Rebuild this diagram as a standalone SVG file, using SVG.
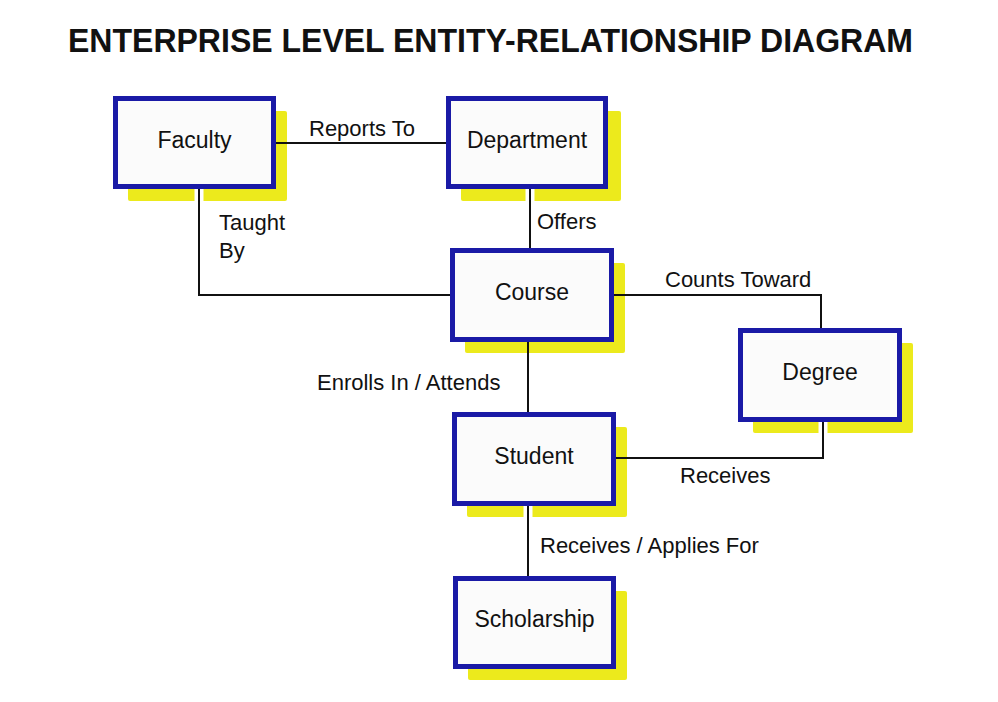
<svg xmlns="http://www.w3.org/2000/svg" width="998" height="702" viewBox="0 0 998 702">
<style>
.bg{fill:#ffffff}
.shadow{fill:#ecea1c}
.box{fill:#fbfbfb;stroke:#1a1aa6;stroke-width:5}
.lbl{font-family:"Liberation Sans",Arial,sans-serif;font-size:22px;fill:#111}
.node{font-family:"Liberation Sans",Arial,sans-serif;font-size:23px;fill:#111;text-anchor:middle}
.title{font-family:"Liberation Sans",Arial,sans-serif;font-size:33px;font-weight:bold;fill:#111}
.halo{fill:none;stroke:#ffffff;stroke-width:9;stroke-linecap:butt}
.line{fill:none;stroke:#111;stroke-width:2;stroke-linecap:butt}
</style>
<rect class="bg" x="0" y="0" width="998" height="702"/>
<text class="title" x="68" y="52" textLength="845" lengthAdjust="spacingAndGlyphs">ENTERPRISE LEVEL ENTITY-RELATIONSHIP DIAGRAM</text>

<g id="shadows">
<rect class="shadow" x="128" y="111" width="159" height="90" rx="2"/>
<rect class="shadow" x="461" y="111" width="160" height="90" rx="2"/>
<rect class="shadow" x="465" y="263" width="160" height="90" rx="2"/>
<rect class="shadow" x="753" y="343" width="160" height="90" rx="2"/>
<rect class="shadow" x="467" y="427" width="160" height="90" rx="2"/>
<rect class="shadow" x="468" y="591" width="159" height="89" rx="2"/>
</g>

<g id="connectors">
<path class="halo" d="M199,189 V203"/>
<path class="halo" d="M530,189 V203"/>
<path class="halo" d="M823,422 V435"/>
<path class="halo" d="M528,506 V519"/>
<path class="line" d="M276,143 H446"/>
<path class="line" d="M199,189 V295 H450"/>
<path class="line" d="M530,189 V248"/>
<path class="line" d="M614,295 H821 V328"/>
<path class="line" d="M528,342 V412"/>
<path class="line" d="M616,458 H823 V422"/>
<path class="line" d="M528,506 V576"/>
<text class="lbl" x="309" y="136">Reports To</text>
<text class="lbl" x="219" y="230">Taught</text>
<text class="lbl" x="219" y="258">By</text>
<text class="lbl" x="537" y="229">Offers</text>
<text class="lbl" x="665" y="287">Counts Toward</text>
<text class="lbl" x="317" y="390">Enrolls In / Attends</text>
<text class="lbl" x="680" y="483">Receives</text>
<text class="lbl" x="540" y="553">Receives / Applies For</text>
</g>

<g id="faculty">
<rect class="box" x="115.5" y="98.5" width="158" height="88"/>
<text class="node" x="194.5" y="148">Faculty</text>
</g>
<g id="department">
<rect class="box" x="448.5" y="98.5" width="157" height="88"/>
<text class="node" x="527" y="148">Department</text>
</g>
<g id="course">
<rect class="box" x="452.5" y="250.5" width="159" height="89"/>
<text class="node" x="532" y="300">Course</text>
</g>
<g id="degree">
<rect class="box" x="740.5" y="330.5" width="159" height="89"/>
<text class="node" x="820" y="380">Degree</text>
</g>
<g id="student">
<rect class="box" x="454.5" y="414.5" width="159" height="89"/>
<text class="node" x="534" y="464">Student</text>
</g>
<g id="scholarship">
<rect class="box" x="455.5" y="578.5" width="158" height="88"/>
<text class="node" x="534.5" y="627">Scholarship</text>
</g>
</svg>
